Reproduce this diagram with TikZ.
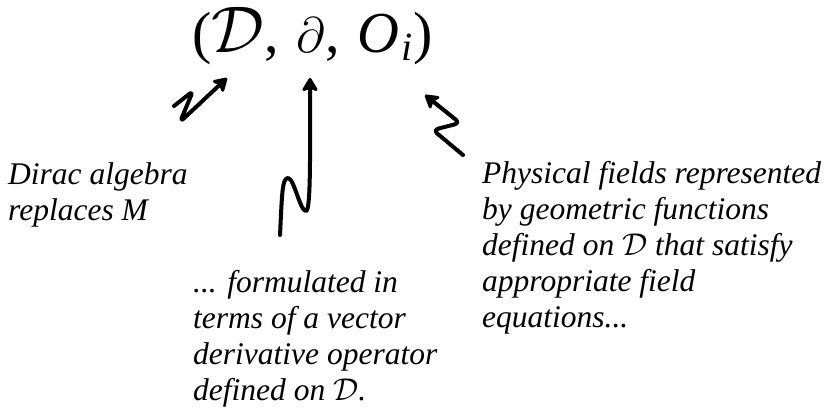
\RequirePackage{fix-cm}
\documentclass[tikz,border=0pt]{standalone}
\usepackage{amsmath, amssymb}
\usepackage{fontspec}
\setmainfont{Liberation Serif}
\usepackage{tikz}
\usetikzlibrary{arrows.meta, positioning, calc}

\tikzset{
    note/.style={align=left, anchor=west, inner sep=0pt, font=\fontsize{31.5}{36}\selectfont\itshape},
    squig/.style={line width=4pt, line cap=round, line join=round, -{Stealth[length=16pt, width=19pt, inset=4pt, round]}}
}

\begin{document}
\begin{tikzpicture}[x=1pt, y=1pt]
        \useasboundingbox (0,0) rectangle (832,416);
        % title
        \node[inner sep=0pt] (title) at (312.5,380) {\fontsize{58}{64}\selectfont
            ({\fontsize{66}{70}\selectfont$\mathcal{D}$},\hspace{0.3em}{\fontsize{50}{56}\selectfont$\partial$},\hspace{0.3em}\textit{O}\hspace{0.05em}\raisebox{-8pt}{\fontsize{40}{44}\selectfont\textit{i}})};
        % notes
        \node[note] (dirac) at (8,221) {Dirac algebra\\replaces M};
        \node[note] (deriv) at (193,77) {... formulated in\\terms of a vector\\derivative operator\\defined on $\mathcal{D}$.};
        \node[note] (fields) at (482,168) {Physical fields represented\\by geometric functions\\defined on $\mathcal{D}$ that satisfy\\appropriate field\\equations...};
        % arrow ends
        \coordinate (dirac start) at (174,310);
        \coordinate (dirac tip) at (227,338);
        \coordinate (deriv start) at (280,181);
        \coordinate (deriv peak) at (288,238);
        \coordinate (deriv dip) at (306,205);
        \coordinate (deriv tip) at (310,338);
        \coordinate (fields start) at (463,261);
        \coordinate (fields tip) at (425,321);
        % arrows
        \draw[squig, rounded corners=5pt] (dirac start) -- (193,325) -- (180,294) -- (dirac tip);
        \draw[squig] (deriv start) .. controls +(2,40) and +(-6,0) .. (deriv peak)
            .. controls +(6,0) and +(-6,0) .. (deriv dip)
            .. controls +(5,0) and +(0,-70) .. (deriv tip);
        \draw[squig, rounded corners=5pt] (fields start) -- (433,286) -- (460,293) -- (fields tip);
    \end{tikzpicture}
\end{document}
